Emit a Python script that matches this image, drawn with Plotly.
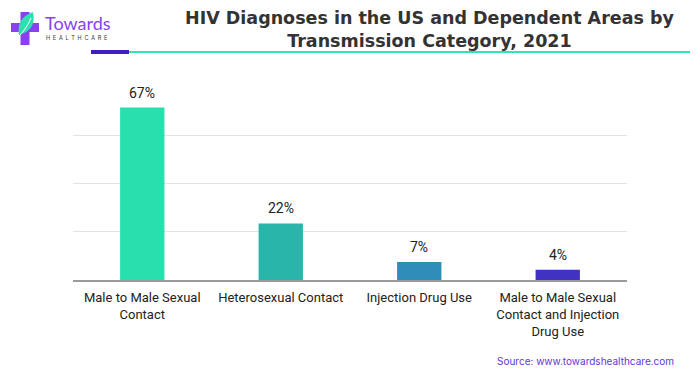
import plotly.graph_objects as go

categories = ["Male to Male Sexual<br>Contact", "Heterosexual Contact", "Injection Drug Use",
              "Male to Male Sexual<br>Contact and Injection<br>Drug Use"]
values = [67, 22, 7, 4]
labels = ["67%", "22%", "7%", "4%"]
colors = ["#27e0ad", "#29b5a9", "#2f8db8", "#4232c2"]
title_lines = ["HIV Diagnoses in the US and Dependent Areas by", "Transmission Category, 2021"]

W, H = 700, 375
L, R, T, B = 73, 73, 87, 95

fig = go.Figure()
fig.add_trace(go.Bar(x=categories, y=values, marker=dict(color=colors, line=dict(width=0)),
                     width=0.32, hoverinfo="skip"))

for c, v, t in zip(categories, values, labels):
    fig.add_annotation(x=c, y=v, text=t, showarrow=False, yanchor="bottom", yshift=5,
                       font=dict(family="Roboto, Inter, sans-serif", size=14, color="#222"))

def pxx(x):
    return (x - L) / (W - L - R)
def pyy(y):
    return (H - B - y) / (H - T - B)

shapes = []
shapes.append(dict(type="line", xref="paper", yref="paper", x0=pxx(129), x1=pxx(690),
                   y0=pyy(52), y1=pyy(52), line=dict(color="#34e3b0", width=2)))
shapes.append(dict(type="line", xref="paper", yref="paper", x0=pxx(91), x1=pxx(129),
                   y0=pyy(52), y1=pyy(52), line=dict(color="#3f1fc0", width=4)))

# Logo cross
shapes.append(dict(type="rect", xref="paper", yref="paper", x0=pxx(11), x1=pxx(39), y0=pyy(32), y1=pyy(23),
                   fillcolor="#8a3ff0", line=dict(width=0), layer="above"))
shapes.append(dict(type="rect", xref="paper", yref="paper", x0=pxx(20.5), x1=pxx(29.5), y0=pyy(45), y1=pyy(12),
                   fillcolor="#8a3ff0", line=dict(width=0), layer="above"))
# Leaf
p = lambda x, y: f"{pxx(x):.4f},{pyy(y):.4f}"
path = f"M {p(19,35)} Q {p(16,18)} {p(33,12)} Q {p(37,30)} {p(19,35)} Z"
shapes.append(dict(type="path", xref="paper", yref="paper", path=path,
                   fillcolor="#2ee0b0", line=dict(width=0), layer="above"))
path2 = f"M {p(17,38)} Q {p(26,30)} {p(31,18)}"
shapes.append(dict(type="path", xref="paper", yref="paper", path=path2,
                   line=dict(color="#ffffff", width=1), layer="above"))

fig.update_layout(
    width=W, height=H,
    margin=dict(l=L, r=R, t=T, b=B),
    paper_bgcolor="white", plot_bgcolor="white",
    showlegend=False,
    bargap=0.68,
    shapes=shapes,
    xaxis=dict(showgrid=False, showline=True, linecolor="#9a9a9a", linewidth=1.5,
               ticks="", ticklabelstandoff=5,
               tickfont=dict(family="Roboto, Inter, sans-serif", size=13, color="#222"),
               fixedrange=True),
    yaxis=dict(range=[0, 75], tickvals=[18.75, 37.5, 56.25, 75], showticklabels=False,
               showgrid=True, gridcolor="#e3e3e3", gridwidth=1, zeroline=False, fixedrange=True),
    font=dict(family="Roboto, sans-serif"),
)

fig.add_annotation(xref="paper", yref="paper", x=pxx(430), y=pyy(29.5), xanchor="center", yanchor="middle",
                   text="<b>" + "<br>".join(title_lines) + "</b>", showarrow=False,
                   font=dict(family="DejaVu Sans, sans-serif", size=17.5, color="#333"))
fig.add_annotation(xref="paper", yref="paper", x=pxx(43), y=pyy(23), xanchor="left", yanchor="middle",
                   text="Towards", showarrow=False,
                   font=dict(family="Lato, Inter, sans-serif", size=18, color="#8a3ff0"))
fig.add_annotation(xref="paper", yref="paper", x=pxx(44), y=pyy(38), xanchor="left", yanchor="middle",
                   text="H\u2002E\u2002A\u2002L\u2002T\u2002H\u2002C\u2002A\u2002R\u2002E", showarrow=False,
                   font=dict(family="Inter, sans-serif", size=5.5, color="#333"))
fig.add_annotation(xref="paper", yref="paper", x=pxx(676), y=pyy(361), xanchor="right", yanchor="middle",
                   text="Source: www.towardshealthcare.com", showarrow=False,
                   font=dict(family="Inter, sans-serif", size=10, color="#5a3ad0"))

fig.write_html("out.html", config={"displayModeBar": False},
               post_script="document.body.style.margin='0px';document.body.style.overflow='hidden';")
